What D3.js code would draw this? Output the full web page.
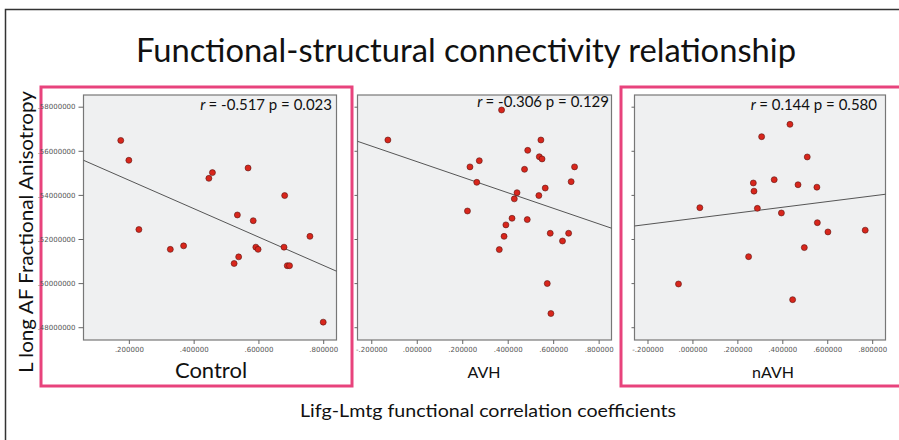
<html>
<script src='https://d3js.org/d3.v7.min.js'></script>
<style>
  body { margin: 0; background: white; }
  text { font-family: Lato, "Open Sans", sans-serif; }
  .tick text { font-family: "DejaVu Sans", sans-serif; font-size: 7px; fill: #555; }
  .tick line, .domain { stroke: #666; }
</style>
<body>
<svg width=899 height=440></svg>
<script>
// values
const groups = ["Control", "AVH", "nAVH"];
const stats = ["= -0.517 p = 0.023", "= -0.306 p = 0.129", "= 0.144 p = 0.580"];

const controlX = [0.175, 0.200, 0.231, 0.328, 0.369, 0.447, 0.458, 0.535, 0.568, 0.525, 0.539, 0.584, 0.592, 0.599, 0.681, 0.679, 0.689, 0.696, 0.759, 0.800];
const controlY = [0.5647, 0.5557, 0.5243, 0.5153, 0.5169, 0.5475, 0.5501, 0.5309, 0.5522, 0.5089, 0.5119, 0.5283, 0.5163, 0.5153, 0.5397, 0.5163, 0.5079, 0.5079, 0.5212, 0.4823];

const avhX = [-0.127, 0.373, 0.546, 0.488, 0.539, 0.551, 0.275, 0.234, 0.474, 0.694, 0.679, 0.264, 0.565, 0.441, 0.537, 0.429, 0.223, 0.419, 0.486, 0.392, 0.384, 0.587, 0.668, 0.641, 0.363, 0.574, 0.590];
const avhY = [0.5649, 0.5785, 0.5649, 0.5602, 0.5573, 0.5563, 0.5555, 0.5527, 0.5516, 0.5527, 0.5460, 0.5457, 0.5431, 0.5410, 0.5397, 0.5382, 0.5327, 0.5294, 0.5288, 0.5264, 0.5212, 0.5226, 0.5226, 0.5191, 0.5152, 0.4998, 0.4862];

const navhX = [0.434, 0.308, 0.511, 0.271, 0.364, 0.470, 0.554, 0.274, 0.033, 0.289, 0.396, 0.556, 0.603, 0.769, 0.498, 0.250, -0.062, 0.446];
const navhY = [0.5720, 0.5664, 0.5572, 0.5454, 0.5469, 0.5446, 0.5435, 0.5417, 0.5342, 0.5339, 0.5318, 0.5274, 0.5232, 0.5240, 0.5161, 0.5120, 0.4996, 0.4925];

// fit line end points [x0, x1], [y0, y1]
const fitX = [[0.06, 0.841], [-0.2606, 0.8565], [-0.2578, 0.8593]];
const fitY = [[0.5557, 0.5054], [0.5643, 0.5249], [0.5259, 0.5403]];

const xDomains = [[0.06, 0.841], [-0.2606, 0.8565], [-0.2578, 0.8593]];
const yDomain = [0.4742, 0.5853];
const xTicks = [[0.2, 0.4, 0.6, 0.8], [-0.2, 0, 0.2, 0.4, 0.6, 0.8], [-0.2, 0, 0.2, 0.4, 0.6, 0.8]];
const yTicks = [0.48, 0.50, 0.52, 0.54, 0.56, 0.58];

const svg = d3.select("svg");

// outer frame
svg.append("path").attr("d", "M5.5,445 V9.5 H905")
  .attr("fill", "none").attr("stroke", "#333").attr("stroke-width", 1.5);

svg.append("text").attr("x", 466).attr("y", 62)
  .attr("text-anchor", "middle").attr("font-size", 33)
  .attr("textLength", 660).attr("lengthAdjust", "spacingAndGlyphs")
  .attr("fill", "#111")
  .text("Functional-structural connectivity relationship");

// pink highlight boxes
svg.append("rect").attr("x", 41).attr("y", 87).attr("width", 311).attr("height", 299)
  .attr("fill", "none").attr("stroke", "#e8437c").attr("stroke-width", 3);
svg.append("rect").attr("x", 621).attr("y", 87).attr("width", 300).attr("height", 299)
  .attr("fill", "none").attr("stroke", "#e8437c").attr("stroke-width", 3);

const panels = [
  {left: 83.5, right: 336.5, xs: controlX, ys: controlY, label: 22, labelX: 211, statX: 332, statY: 110},
  {left: 357.5, right: 611.5, xs: avhX, ys: avhY, label: 16, labelX: 484, statX: 609, statY: 107},
  {left: 634.5, right: 885.5, xs: navhX, ys: navhY, label: 16, labelX: 773, statX: 877, statY: 110}
];
const plotTop = 95, plotBottom = 340;

// SPSS style: no leading zero, plain hyphen for minus
function spss(d, n) {
  return (d < 0 ? "-" : "") + Math.abs(d).toFixed(n).replace(/^0/, "");
}
const fmtX = d => spss(d, 6);
const fmtY = d => spss(d, 8);

panels.forEach(function(p, i) {
  const x = d3.scaleLinear(xDomains[i], [p.left, p.right]);
  const y = d3.scaleLinear(yDomain, [plotBottom, plotTop]);
  const g = svg.append("g");

  g.append("rect").attr("x", p.left).attr("y", plotTop)
    .attr("width", p.right - p.left).attr("height", plotBottom - plotTop)
    .attr("fill", "#eff0f1").attr("stroke", "#777").attr("stroke-width", 1.2);

  g.append("g").attr("transform", "translate(0," + plotBottom + ")")
    .call(d3.axisBottom(x).tickValues(xTicks[i]).tickFormat(fmtX).tickSize(4).tickSizeOuter(0))
    .call(a => a.select(".domain").remove());

  g.append("g").attr("transform", "translate(" + p.left + ",0)")
    .call(d3.axisLeft(y).tickValues(yTicks).tickSize(i == 0 ? 5 : 3).tickSizeOuter(0)
      .tickFormat(i == 0 ? fmtY : ""))
    .call(a => a.select(".domain").remove());

  g.append("line")
    .attr("x1", x(fitX[i][0])).attr("x2", x(fitX[i][1]))
    .attr("y1", y(fitY[i][0])).attr("y2", y(fitY[i][1]))
    .attr("stroke", "#555").attr("stroke-width", 1);

  g.selectAll("circle").data(p.xs).enter().append("circle")
    .attr("cx", (d, j) => x(d))
    .attr("cy", (d, j) => y(p.ys[j]))
    .attr("r", 3)
    .attr("fill", "#d8261c").attr("stroke", "#5a1410").attr("stroke-width", 0.6);

  const st = g.append("text").attr("x", p.statX).attr("y", p.statY)
    .attr("text-anchor", "end").attr("font-size", 15).attr("fill", "#111");
  st.append("tspan").attr("font-style", "italic").text("r ");
  st.append("tspan").text(stats[i]);

  g.append("text").attr("x", p.labelX).attr("y", 378)
    .attr("text-anchor", "middle").attr("font-size", p.label).attr("fill", "#111")
    .text(groups[i]);
});

svg.append("text").attr("transform", "translate(33,232) rotate(-90)")
  .attr("text-anchor", "middle").attr("font-size", 19)
  .attr("textLength", 282).attr("lengthAdjust", "spacingAndGlyphs")
  .attr("fill", "#111")
  .text("L long AF Fractional Anisotropy");

svg.append("text").attr("x", 488).attr("y", 417)
  .attr("text-anchor", "middle").attr("font-size", 18)
  .attr("textLength", 376).attr("lengthAdjust", "spacingAndGlyphs")
  .attr("fill", "#111")
  .text("Lifg-Lmtg functional correlation coefficients");
</script>
</body>
</html>
